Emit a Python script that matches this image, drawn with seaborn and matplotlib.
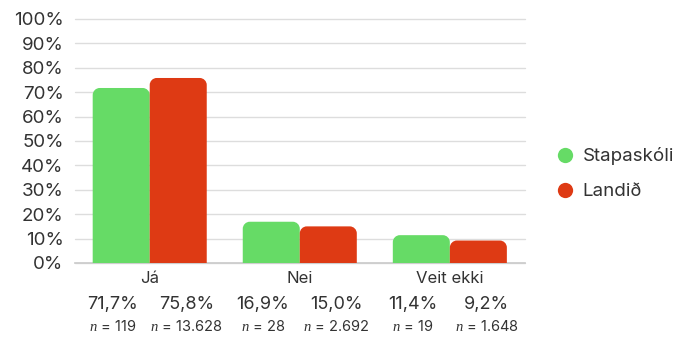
import matplotlib
matplotlib.use("Agg")
import matplotlib.pyplot as plt
import seaborn as sns
import pandas as pd
from matplotlib.patches import PathPatch
from matplotlib.path import Path
from matplotlib.lines import Line2D

categories = ["Já", "Nei", "Veit ekki"]
series_names = ["Stapaskóli", "Landið"]
stapaskoli_pct = [71.7, 16.9, 11.4]
landid_pct = [75.8, 15.0, 9.2]
stapaskoli_n = ["119", "28", "19"]
landid_n = ["13.628", "2.692", "1.648"]
ytick_values = [0, 10, 20, 30, 40, 50, 60, 70, 80, 90, 100]

colors = {"Stapaskóli": "#66DB66", "Landið": "#DE3A14"}

df = pd.DataFrame({
    "category": categories * 2,
    "series": [series_names[0]] * 3 + [series_names[1]] * 3,
    "value": stapaskoli_pct + landid_pct,
})

sns.set_theme(style="white")
plt.rcParams["font.family"] = ["Inter", "DejaVu Sans"]
plt.rcParams["mathtext.fontset"] = "custom"
plt.rcParams["mathtext.it"] = "Liberation Serif:italic"
plt.rcParams["mathtext.rm"] = "Inter"

fig = plt.figure(figsize=(6.79, 3.44), dpi=100)
ax = fig.add_axes([0.110, 0.2355, 0.663, 0.7095])

sns.barplot(data=df, x="category", y="value", hue="series", order=categories,
            hue_order=series_names, palette=colors, width=0.76, gap=0,
            ax=ax, legend=False, saturation=1)

ax.set_ylim(0, 100)
ax.set_xlim(-0.5, 2.5)
ax.set_yticks(ytick_values)
ax.set_yticklabels([f"{v}%" for v in ytick_values], fontsize=13.5, color="#333333")
ax.yaxis.grid(True, color="#dddddd", linewidth=1)
ax.set_axisbelow(True)
for s in ["top", "right", "left"]:
    ax.spines[s].set_visible(False)
ax.spines["bottom"].set_color("#cccccc")
ax.tick_params(axis="y", length=0, pad=8)
ax.tick_params(axis="x", length=0, pad=6, labelsize=12, labelcolor="#333333")
ax.set_xlabel("")
ax.set_ylabel("")
for gl in ax.get_ygridlines():
    gl.set_clip_on(False)

# Redraw bars with rounded top corners (radius given in pixels)
fig.canvas.draw()
bbox = ax.get_window_extent()
x_per_px = (ax.get_xlim()[1] - ax.get_xlim()[0]) / bbox.width
y_per_px = (ax.get_ylim()[1] - ax.get_ylim()[0]) / bbox.height
radius_px = 7
k = 0.5523
for p in list(ax.patches):
    x, y = p.get_x(), p.get_y()
    w, h = p.get_width(), p.get_height()
    fc = p.get_facecolor()
    p.set_visible(False)
    rx, ry = radius_px * x_per_px, radius_px * y_per_px
    top = y + h
    verts = [
        (x, y), (x + w, y), (x + w, top - ry),
        (x + w, top - ry + k * ry), (x + w - rx + k * rx, top), (x + w - rx, top),
        (x + rx, top),
        (x + rx - k * rx, top), (x, top - ry + k * ry), (x, top - ry),
        (x, y),
    ]
    codes = [Path.MOVETO, Path.LINETO, Path.LINETO,
             Path.CURVE4, Path.CURVE4, Path.CURVE4,
             Path.LINETO,
             Path.CURVE4, Path.CURVE4, Path.CURVE4,
             Path.CLOSEPOLY]
    ax.add_patch(PathPatch(Path(verts, codes), facecolor=fc, edgecolor="none", zorder=3))

# Value and count labels under each group, one column per series
label_offset = 0.245
for i, cat in enumerate(categories):
    for j, (pcts, ns) in enumerate([(stapaskoli_pct, stapaskoli_n), (landid_pct, landid_n)]):
        xc = i + (2 * j - 1) * label_offset
        ax.annotate(f"{pcts[i]:.1f}%".replace(".", ","), xy=(xc, 0),
                    xycoords="data", xytext=(0, -42), textcoords="offset pixels",
                    ha="center", va="center", fontsize=13, color="#333333",
                    annotation_clip=False)
        ax.annotate(f"$n$ = {ns[i]}", xy=(xc, 0), xycoords="data",
                    xytext=(0, -64), textcoords="offset pixels",
                    ha="center", va="center", fontsize=10.5, color="#333333",
                    annotation_clip=False)

handles = [Line2D([0], [0], marker="o", linestyle="", markersize=11,
                  markerfacecolor=colors[s], markeredgecolor="none") for s in series_names]
fig.legend(handles, series_names, loc="center left", bbox_to_anchor=(0.819, 0.495),
           frameon=False, fontsize=13.5, handlelength=1.0, handletextpad=0.4,
           labelspacing=0.95, borderpad=0, borderaxespad=0, labelcolor="#333333")

fig.savefig("out.png", dpi=100, facecolor="white")
